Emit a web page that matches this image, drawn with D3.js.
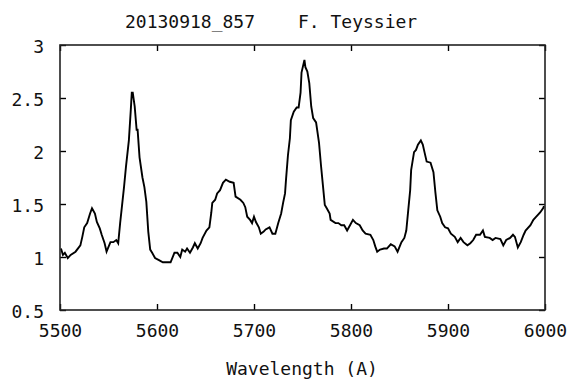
<!DOCTYPE html>
<html>
<head>
<meta charset="utf-8">
<script src="https://cdn.jsdelivr.net/npm/d3@7"></script>
<style>
  html, body { margin: 0; padding: 0; background: #fff; }
  svg text { font-family: "DejaVu Sans Mono", monospace; font-size: 18px; fill: #111; }
</style>
</head>
<body>
<svg id="chart" width="574" height="387"></svg>
<script>
// Spectrum 20130918_857 (F. Teyssier): wavelength in Angstrom, relative flux
const wavelength = [
  5501, 5503, 5505, 5508, 5511, 5516, 5521, 5523, 5525, 5528,
  5531, 5533, 5536, 5538, 5541, 5543, 5546, 5548, 5552, 5555,
  5558, 5560, 5562, 5564, 5566, 5568, 5571, 5573, 5574, 5575,
  5577, 5579, 5580, 5582, 5585, 5587, 5589, 5591, 5593, 5595,
  5598, 5602, 5606, 5611, 5614, 5618, 5621, 5624, 5626, 5629,
  5631, 5634, 5637, 5639, 5642, 5645, 5647, 5651, 5654, 5656,
  5657, 5660, 5662, 5665, 5668, 5671, 5675, 5679, 5681, 5686,
  5689, 5691, 5693, 5696, 5698, 5700, 5702, 5705, 5707, 5710,
  5712, 5716, 5719, 5722, 5725, 5728, 5730, 5732, 5733, 5735,
  5737, 5738, 5741, 5744, 5746, 5748, 5749, 5752, 5753, 5755,
  5757, 5759, 5761, 5764, 5767, 5769, 5771, 5773, 5775, 5778,
  5779, 5784, 5787, 5790, 5793, 5796, 5799, 5802, 5805, 5809,
  5812, 5815, 5820, 5823, 5825, 5827, 5830, 5834, 5837, 5841,
  5845, 5848, 5852, 5855, 5857, 5859, 5861, 5862, 5865, 5867,
  5869, 5872, 5874, 5876, 5878, 5882, 5885, 5887, 5889, 5892,
  5894, 5897, 5900, 5903, 5907, 5910, 5913, 5916, 5920, 5923,
  5926, 5929, 5933, 5936, 5938, 5943, 5946, 5949, 5954, 5957,
  5960, 5964, 5967, 5969, 5972, 5975, 5978, 5980, 5985, 5988,
  5991, 5995, 5998, 5999
];
const flux = [
  1.08, 1.02, 1.04, 0.99, 1.02, 1.05, 1.11, 1.19, 1.28, 1.32,
  1.41, 1.46, 1.41, 1.33, 1.27, 1.21, 1.13, 1.05, 1.14, 1.14,
  1.16, 1.13, 1.32, 1.49, 1.66, 1.85, 2.10, 2.39, 2.55, 2.55,
  2.42, 2.20, 2.20, 1.94, 1.75, 1.66, 1.52, 1.24, 1.07, 1.04,
  0.99, 0.97, 0.95, 0.95, 0.95, 1.04, 1.04, 1.00, 1.07, 1.05,
  1.08, 1.04, 1.09, 1.13, 1.08, 1.13, 1.18, 1.25, 1.28, 1.42,
  1.51, 1.54, 1.60, 1.63, 1.70, 1.73, 1.71, 1.70, 1.57, 1.54,
  1.51, 1.47, 1.38, 1.35, 1.32, 1.38, 1.33, 1.28, 1.22, 1.24,
  1.26, 1.28, 1.22, 1.22, 1.32, 1.41, 1.51, 1.60, 1.73, 1.96,
  2.12, 2.29, 2.37, 2.41, 2.41, 2.55, 2.74, 2.86, 2.79, 2.75,
  2.64, 2.42, 2.31, 2.27, 2.08, 1.87, 1.68, 1.49, 1.46, 1.41,
  1.35, 1.32, 1.32, 1.30, 1.30, 1.25, 1.30, 1.35, 1.32, 1.30,
  1.25, 1.22, 1.21, 1.16, 1.10, 1.05, 1.07, 1.08, 1.08, 1.12,
  1.10, 1.05, 1.14, 1.18, 1.25, 1.44, 1.63, 1.82, 1.99, 2.01,
  2.06, 2.10, 2.06, 1.98, 1.90, 1.89, 1.80, 1.61, 1.44, 1.38,
  1.32, 1.28, 1.27, 1.22, 1.19, 1.14, 1.18, 1.14, 1.11, 1.13,
  1.16, 1.21, 1.21, 1.25, 1.19, 1.18, 1.16, 1.18, 1.17, 1.11,
  1.16, 1.18, 1.21, 1.19, 1.09, 1.14, 1.21, 1.25, 1.30, 1.35,
  1.38, 1.42, 1.46, 1.48
];
const xTicks = [5500, 5600, 5700, 5800, 5900, 6000];
const yTicks = [0.5, 1, 1.5, 2, 2.5, 3];
const titleLeft = "20130918_857";
const titleRight = "F. Teyssier";
const xLabel = "Wavelength (A)";

const svg = d3.select("#chart");
const plot = { left: 60, top: 45, right: 545, bottom: 310 };
const tickLen = 6;

const x = d3.scaleLinear().domain([5500, 6000]).range([plot.left, plot.right]);
const y = d3.scaleLinear().domain([0.5, 3]).range([plot.bottom, plot.top]);

// Spectrum line
const pts = wavelength.map((w, i) => [w, flux[i]]);
svg.append("path")
  .datum(pts)
  .attr("fill", "none")
  .attr("stroke", "#000")
  .attr("stroke-width", 1.9)
  .attr("stroke-linejoin", "miter")
  .attr("d", d3.line().x(d => x(d[0])).y(d => y(d[1])));

// Bottom and left axes: inward ticks with labels
const xAxisB = d3.axisBottom(x).tickValues(xTicks).tickSize(-tickLen).tickPadding(14)
  .tickFormat(d3.format("d"));
const gxb = svg.append("g").attr("transform", `translate(0,${plot.bottom})`).call(xAxisB);

const yAxisL = d3.axisLeft(y).tickValues(yTicks).tickSize(-tickLen).tickPadding(16)
  .tickFormat(d => String(d));
const gyl = svg.append("g").attr("transform", `translate(${plot.left},0)`).call(yAxisL);

// Top and right mirrored ticks, no labels
const gxt = svg.append("g").attr("transform", `translate(0,${plot.top})`)
  .call(d3.axisTop(x).tickValues(xTicks).tickSize(-tickLen).tickFormat(""));
const gyr = svg.append("g").attr("transform", `translate(${plot.right},0)`)
  .call(d3.axisRight(y).tickValues(yTicks).tickSize(-tickLen).tickFormat(""));

[gxb, gyl, gxt, gyr].forEach(g => {
  g.select(".domain").remove();
  g.selectAll(".tick line").attr("stroke", "#000").attr("stroke-width", 1.4);
  g.selectAll("text").attr("font-family", null).attr("font-size", null).attr("fill", null);
});
gxb.selectAll(".tick text").attr("dy", "0.71em");
gyl.selectAll(".tick text").attr("dy", "0.42em");

// Plot frame
svg.append("rect")
  .attr("x", plot.left).attr("y", plot.top)
  .attr("width", plot.right - plot.left).attr("height", plot.bottom - plot.top)
  .attr("fill", "none").attr("stroke", "#222").attr("stroke-width", 1.6);

// Title and axis label
svg.append("text").attr("x", 125).attr("y", 28).text(titleLeft);
svg.append("text").attr("x", 298).attr("y", 28).text(titleRight);
svg.append("text").attr("x", 302).attr("y", 375).attr("text-anchor", "middle").text(xLabel);
</script>
</body>
</html>
